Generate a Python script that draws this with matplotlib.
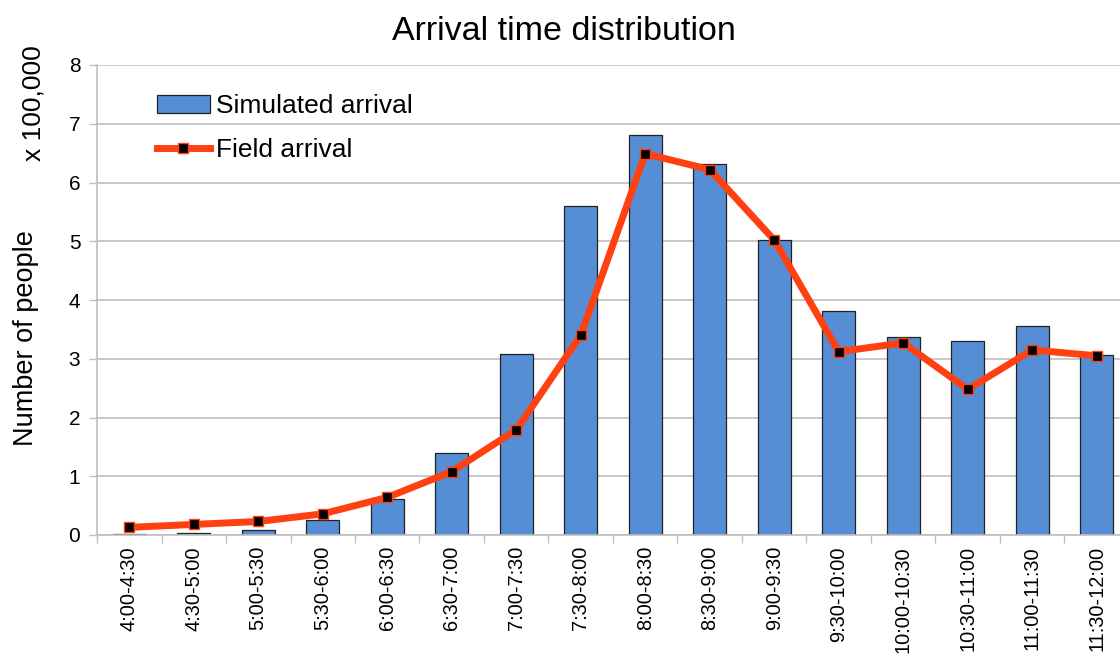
import numpy as np
import matplotlib.pyplot as plt
from matplotlib.lines import Line2D
from matplotlib.patches import Patch

plt.rcParams['font.family'] = ['Liberation Sans', 'DejaVu Sans']

# 时间段
slots = ["4:00-4:30", "4:30-5:00", "5:00-5:30", "5:30-6:00", "6:00-6:30",
         "6:30-7:00", "7:00-7:30", "7:30-8:00", "8:00-8:30", "8:30-9:00",
         "9:00-9:30", "9:30-10:00", "10:00-10:30", "10:30-11:00",
         "11:00-11:30", "11:30-12:00"]
# 模拟到达 (x 100,000)
simulated = [0.01, 0.03, 0.09, 0.25, 0.62, 1.39, 3.08, 5.60, 6.81, 6.32,
             5.02, 3.81, 3.37, 3.30, 3.55, 3.06]
# 实测到达 (x 100,000)
field = [0.13, 0.18, 0.23, 0.36, 0.64, 1.08, 1.79, 3.40, 6.49, 6.22,
         5.02, 3.12, 3.27, 2.48, 3.15, 3.05]

fig = plt.figure(figsize=(11.2, 6.72), dpi=100)
ax = fig.add_axes([97 / 1120, 1 - 535 / 672, 1032 / 1120, 470 / 672])

x = np.arange(len(slots))
ax.bar(x, simulated, width=0.51, color='#558ED5', edgecolor='#222222',
       linewidth=0.9, zorder=2)
ax.plot(x, field, color='#FF4010', linewidth=5, marker='s', markersize=7,
        markerfacecolor='black', markeredgecolor='#FF4010', markeredgewidth=1,
        solid_joinstyle='round', zorder=3)

ax.set_xlim(-0.5, len(slots) - 0.5)
ax.set_ylim(0, 8)
ax.set_yticks(range(9))
ax.yaxis.grid(True, color='#BFBFBF', linewidth=1.2, zorder=0)
ax.set_axisbelow(True)

ax.set_xticks(x)
ax.set_xticklabels(slots, rotation=90, fontsize=14.4)
ax.tick_params(axis='x', length=0, pad=8)
ax.set_xticks(np.arange(-0.5, len(slots), 1), minor=True)
ax.tick_params(axis='x', which='minor', length=6, color='#BFBFBF', width=1)
ax.tick_params(axis='y', labelsize=15, length=6, color='#BFBFBF', width=1, pad=6)

for s in ['top', 'right']:
    ax.spines[s].set_visible(False)
for s in ['left', 'bottom']:
    ax.spines[s].set_color('#BFBFBF')
    ax.spines[s].set_linewidth(1.2)

fig.text(564 / 1120, 1 - 31 / 672, "Arrival time distribution", fontsize=24.5,
         ha='center', va='center')
fig.text(26 / 1120, 1 - 338 / 672, "Number of people", rotation=90,
         fontsize=19.5, ha='center', va='center')
fig.text(34 / 1120, 1 - 103 / 672, "x 100,000", rotation=90,
         fontsize=19, ha='center', va='center')

handles = [Patch(facecolor='#558ED5', edgecolor='#222222', linewidth=0.9),
           Line2D([0], [0], color='#FF4010', linewidth=5, marker='s',
                  markersize=7, markerfacecolor='black',
                  markeredgecolor='#FF4010')]
ax.legend(handles, ["Simulated arrival", "Field arrival"], loc='upper left',
          bbox_to_anchor=(0.035, 0.988), frameon=False, fontsize=19,
          handlelength=2.0, handletextpad=0.25, labelspacing=0.74)

fig.savefig("out.png", dpi=100)
